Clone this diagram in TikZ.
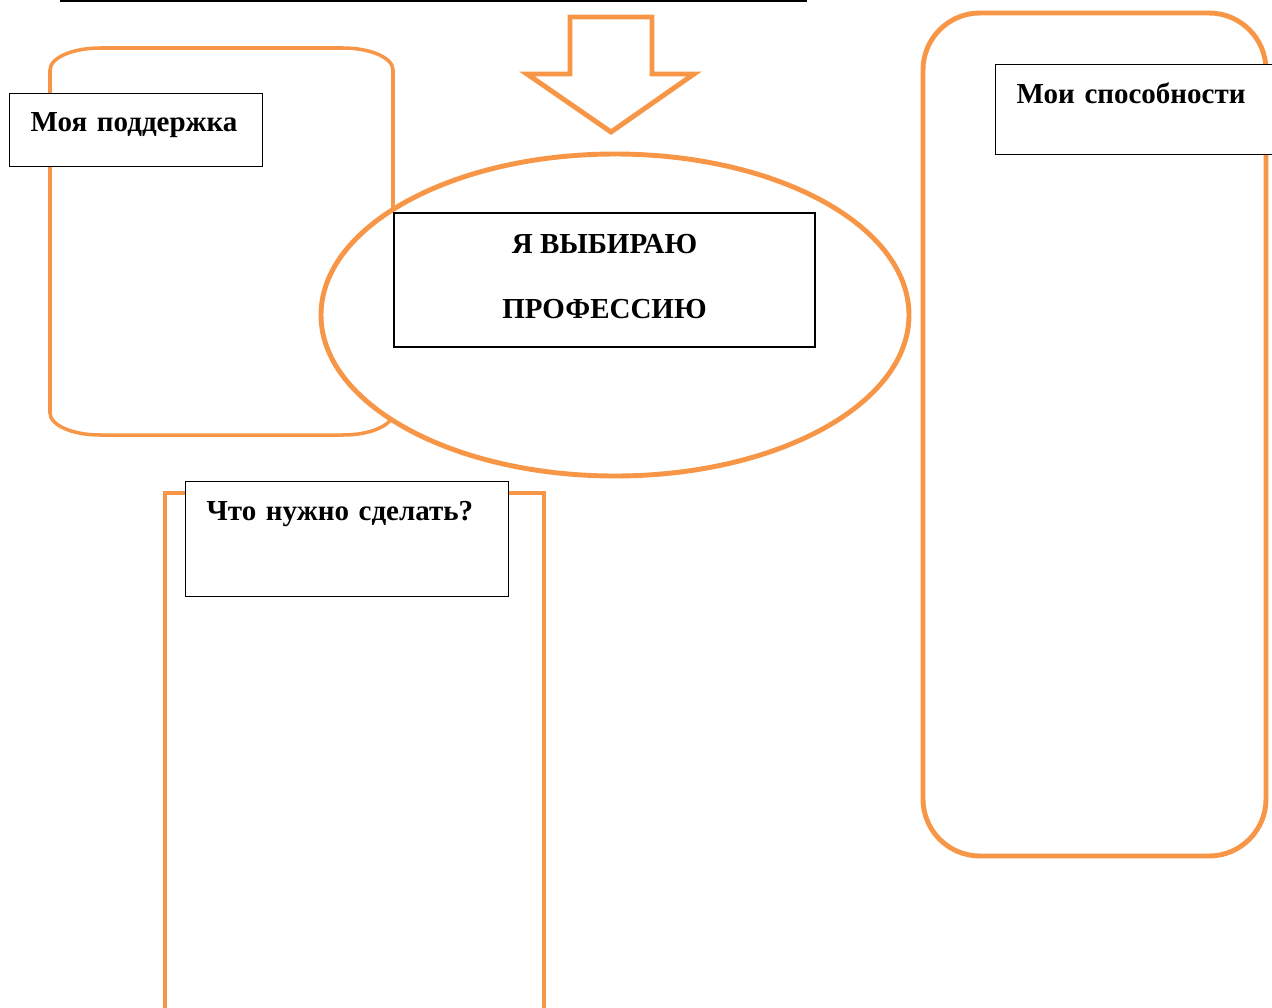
\documentclass[tikz,border=0pt]{standalone}
\usepackage{fontspec}
\setmainfont{Liberation Serif}
\definecolor{boxorange}{RGB}{247,150,70}
\tikzset{
  orangeline/.style={draw=boxorange, line width=2.8pt},
  labelbox/.style={draw=black, fill=white, line width=0.8pt, anchor=north west, inner xsep=0.42cm, inner ysep=0pt, align=left, font=\fontsize{16.5}{19.5}\selectfont\bfseries},
}

\begin{document}
\begin{tikzpicture}[x=0.02cm, y=-0.02cm]
\useasboundingbox (0,0) rectangle (1272,1008);
\draw[orangeline, line width=2pt] (50,70) arc[start angle=180, end angle=270, x radius=50, y radius=22] -- (343,48)
  arc[start angle=270, end angle=360, x radius=50, y radius=22] -- (393,413)
  arc[start angle=0, end angle=90, x radius=50, y radius=22] -- (100,435)
  arc[start angle=90, end angle=180, x radius=50, y radius=22] -- cycle;
\draw[orangeline, fill=white] (615,315) ellipse [x radius=294, y radius=161];
\draw[orangeline, line join=miter] (570,17) -- (652,17) -- (652,74) -- (694,74) -- (611,132) -- (527,74) -- (570,74) -- cycle;
\node[labelbox, anchor=center, align=center, minimum width=8.42cm, minimum height=2.68cm, inner sep=0pt, text depth=0.16cm] (choice) at (604.5,280) {Я ВЫБИРАЮ\\[17.6pt]ПРОФЕССИЮ};
\draw[orangeline] (165,1030) -- (165,493) -- (544,493) -- (544,1030);
\node[labelbox, text width=5.62cm, text height=0.78cm, text depth=1.52cm] (todo) at (185,481) {\mbox{Что нужно сделать?}};
\draw[orangeline, rounded corners=1.14cm] (923,13) rectangle (1266,856);
\node[labelbox, text width=5.06cm, text height=0.78cm, text depth=1.02cm] (abilities) at (995,64) {\mbox{Мои способности}};
\node[labelbox, text width=4.22cm, text height=0.76cm, text depth=0.70cm] (support) at (9,93) {\mbox{Моя поддержка}};
\draw[line width=1.6pt] (60,1) -- (807,1);
\end{tikzpicture}
\end{document}
